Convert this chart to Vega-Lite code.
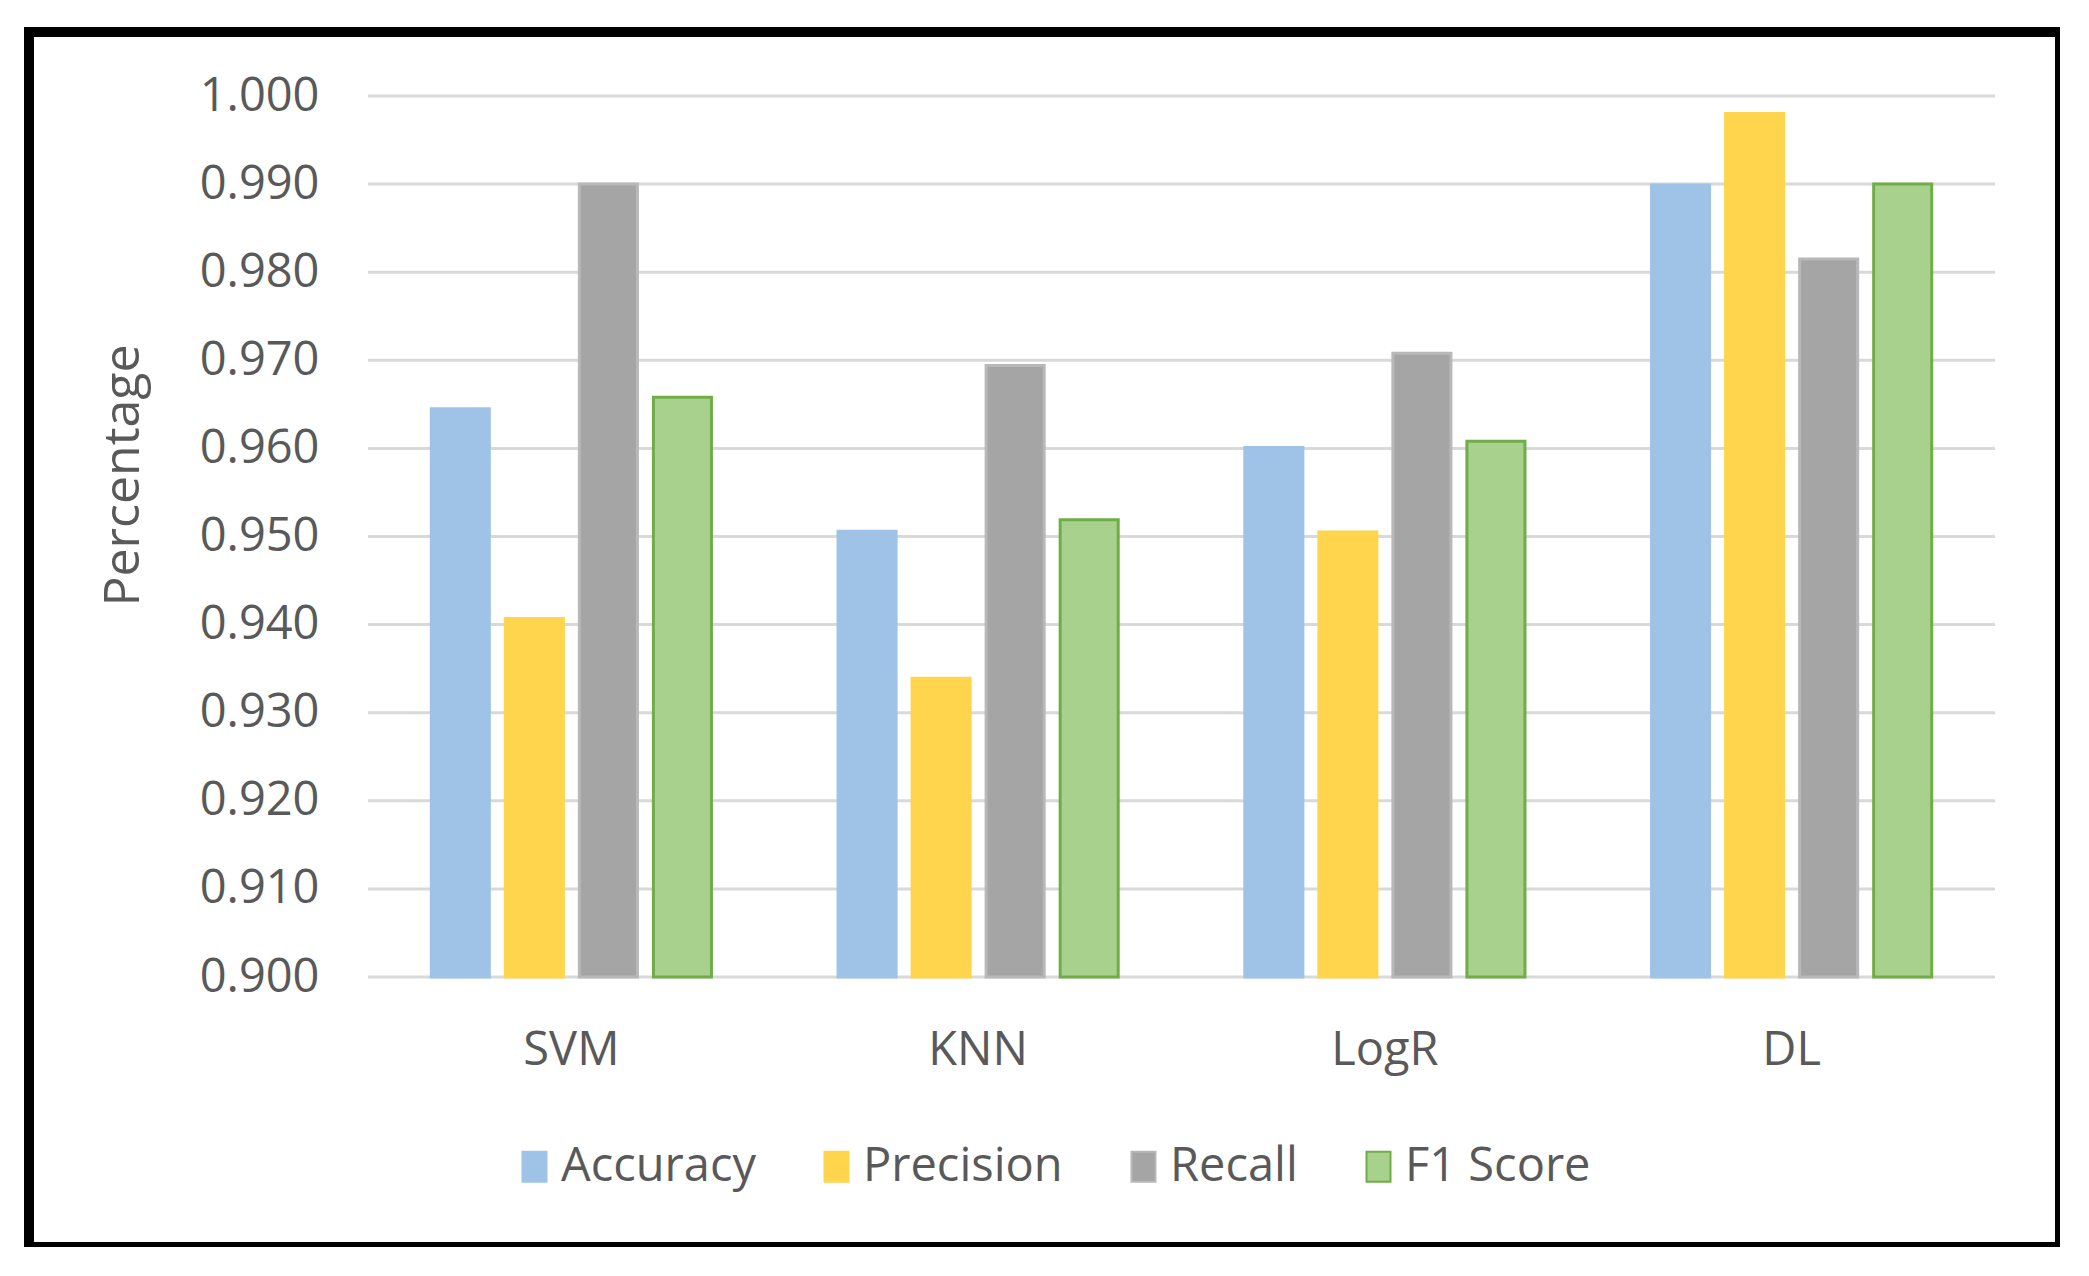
{
  "$schema": "https://vega.github.io/schema/vega-lite/v6.json",
  "width": 2031,
  "height": 1215,
  "padding": {"left": 29, "top": 32, "right": 0, "bottom": 0},
  "autosize": {"type": "none"},
  "background": "white",
  "config": {
    "view": {"stroke": "black", "strokeWidth": 10},
    "font": "Open Sans",
    "axis": {"labelColor": "#595959", "titleColor": "#595959", "labelFont": "Open Sans", "titleFont": "Open Sans", "titleFontWeight": "normal"},
    "legend": {"labelColor": "#595959", "labelFont": "Open Sans"}
  },
  "datasets": {
    "scores": [
      {"model": "SVM", "metric": "Accuracy", "value": 0.9645},
      {"model": "SVM", "metric": "Precision", "value": 0.9407},
      {"model": "SVM", "metric": "Recall", "value": 0.9900},
      {"model": "SVM", "metric": "F1 Score", "value": 0.9658},
      {"model": "KNN", "metric": "Accuracy", "value": 0.9506},
      {"model": "KNN", "metric": "Precision", "value": 0.9339},
      {"model": "KNN", "metric": "Recall", "value": 0.9694},
      {"model": "KNN", "metric": "F1 Score", "value": 0.9519},
      {"model": "LogR", "metric": "Accuracy", "value": 0.9601},
      {"model": "LogR", "metric": "Precision", "value": 0.9505},
      {"model": "LogR", "metric": "Recall", "value": 0.9708},
      {"model": "LogR", "metric": "F1 Score", "value": 0.9608},
      {"model": "DL", "metric": "Accuracy", "value": 0.9899},
      {"model": "DL", "metric": "Precision", "value": 0.9980},
      {"model": "DL", "metric": "Recall", "value": 0.9815},
      {"model": "DL", "metric": "F1 Score", "value": 0.9900}
    ],
    "grid": [
      {"v": 0.90}, {"v": 0.91}, {"v": 0.92}, {"v": 0.93}, {"v": 0.94}, {"v": 0.95},
      {"v": 0.96}, {"v": 0.97}, {"v": 0.98}, {"v": 0.99}, {"v": 1.00}
    ]
  },
  "layer": [
    {
      "data": {"name": "grid"},
      "mark": {"type": "rule", "color": "#d9d9d9", "strokeWidth": 3},
      "encoding": {
        "x": {"datum": 0, "type": "quantitative", "scale": {"domain": [0, 1], "range": [339, 1966]}, "axis": null},
        "x2": {"datum": 1},
        "y": {
          "field": "v", "type": "quantitative",
          "scale": {"domain": [0.9, 1.0], "range": [945, 64], "nice": false, "zero": false},
          "axis": {
            "values": [0.9, 0.91, 0.92, 0.93, 0.94, 0.95, 0.96, 0.97, 0.98, 0.99, 1.0],
            "format": ".3f",
            "offset": -302,
            "domain": false,
            "ticks": false,
            "grid": false,
            "labelPadding": 12,
            "labelFontSize": 47,
            "title": "Percentage",
            "titleFontSize": 50,
            "titleX": -193,
            "titleY": 443,
            "titleBaseline": "alphabetic",
            "titleAngle": -90
          }
        }
      }
    },
    {
      "data": {"name": "scores"},
      "mark": {"type": "bar", "strokeWidth": 3},
      "encoding": {
        "x": {
          "field": "model", "type": "nominal",
          "scale": {"domain": ["SVM", "KNN", "LogR", "DL"], "range": [339, 1966], "paddingInner": 0, "paddingOuter": 0},
          "axis": {"title": null, "labelAngle": 0, "labelFontSize": 47, "domain": false, "ticks": false, "offset": -270, "labelPadding": 50}
        },
        "xOffset": {
          "field": "metric", "type": "nominal",
          "scale": {"domain": ["Accuracy", "Precision", "Recall", "F1 Score"], "paddingInner": 0.216, "paddingOuter": 0.855}
        },
        "y": {"field": "value", "type": "quantitative"},
        "y2": {"datum": 0.9},
        "fill": {
          "field": "metric", "type": "nominal",
          "scale": {"domain": ["Accuracy", "Precision", "Recall", "F1 Score"], "range": ["#9ec3e6", "#ffd54d", "#a5a5a5", "#a9d18e"]},
          "legend": {
            "title": null, "orient": "none", "direction": "horizontal",
            "legendX": 482, "legendY": 1111,
            "labelFontSize": 47, "labelLimit": 500,
            "symbolType": "M-0.8,-1H0.8V1H-0.8Z", "symbolSize": 900,
            "labelOffset": 3, "columnPadding": 57, "padding": 0, "symbolStrokeWidth": 2
          }
        },
        "stroke": {
          "field": "metric", "type": "nominal",
          "scale": {"domain": ["Accuracy", "Precision", "Recall", "F1 Score"], "range": ["#9ec3e6", "#ffd54d", "#b8b8b8", "#70ad47"]},
          "legend": null
        }
      }
    }
  ],
  "resolve": {"scale": {"x": "independent"}}
}
